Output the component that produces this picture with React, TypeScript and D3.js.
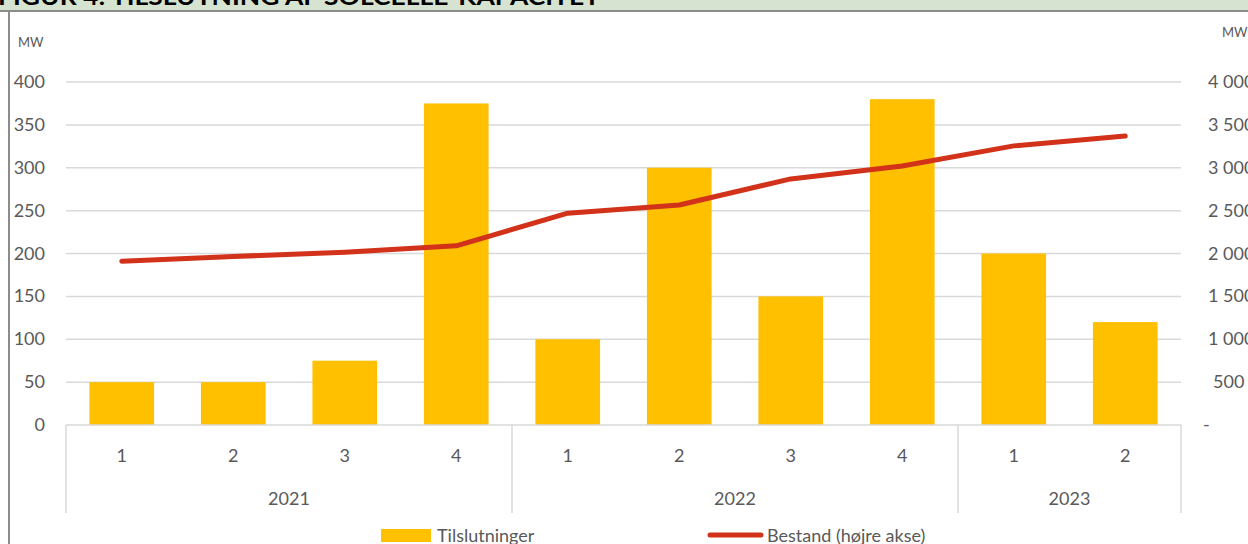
import { useEffect, useRef } from 'react';
import * as d3 from 'd3';

const quarters = ['1', '2', '3', '4', '1', '2', '3', '4', '1', '2'];
const years = ['2021', '2021', '2021', '2021', '2022', '2022', '2022', '2022', '2023', '2023'];
const yearGroups = ['2021', '2022', '2023'];
const tilslutninger = [50, 50, 75, 375, 100, 300, 150, 380, 200, 120];
const bestand = [1910, 1965, 2015, 2090, 2470, 2565, 2870, 3020, 3255, 3370];
const leftTicks = [0, 50, 100, 150, 200, 250, 300, 350, 400];
const rightTicks = [0, 500, 1000, 1500, 2000, 2500, 3000, 3500, 4000];
const title = 'FIGUR 4: TILSLUTNING AF SOLCELLE-KAPACITET';

const App = () => {
  const chartRef = useRef<SVGSVGElement | null>(null);

  useEffect(() => {
    if (!chartRef.current) return;
    const svg = d3.select(chartRef.current);
    svg.selectAll('*').remove();

    const font = 'Lato, "Open Sans", sans-serif';
    const textColor = '#595959';
    const gridColor = '#d9d9d9';

    const left = 66, right = 1181, top = 82, bottom = 425;
    const idx = quarters.map((_, i) => String(i));

    const x = d3.scaleBand<string>()
      .domain(idx)
      .range([left, right])
      .paddingInner(0.42)
      .paddingOuter(0.21);
    const yL = d3.scaleLinear().domain([0, 400]).range([bottom, top]);
    const yR = d3.scaleLinear().domain([0, 4000]).range([bottom, top]);

    // title band (cut off at the top)
    svg.append('rect').attr('x', 0).attr('y', 0).attr('width', 1248).attr('height', 11).attr('fill', '#d6e3d0');
    svg.append('clipPath').attr('id', 'titleclip')
      .append('rect').attr('x', 0).attr('y', 0).attr('width', 1248).attr('height', 11);
    svg.append('text')
      .attr('clip-path', 'url(#titleclip)')
      .attr('x', -2).attr('y', 5)
      .attr('font-family', font)
      .attr('font-weight', 'bold')
      .attr('font-size', 22)
      .attr('fill', '#000')
      .attr('textLength', 602)
      .attr('lengthAdjust', 'spacingAndGlyphs')
      .text(title);
    svg.append('line').attr('x1', 0).attr('x2', 1248).attr('y1', 11).attr('y2', 11)
      .attr('stroke', '#8c8c8c').attr('stroke-width', 2);
    svg.append('line').attr('x1', 9).attr('x2', 9).attr('y1', 11).attr('y2', 544)
      .attr('stroke', '#8c8c8c').attr('stroke-width', 2);

    // unit labels
    svg.append('text').attr('x', 18).attr('y', 47).attr('font-family', font).attr('font-size', 13)
      .attr('fill', textColor).text('MW');
    svg.append('text').attr('x', 1222).attr('y', 37).attr('font-family', font).attr('font-size', 13)
      .attr('fill', textColor).text('MW');

    // gridlines
    svg.append('g').selectAll('line')
      .data(leftTicks.filter(d => d > 0))
      .enter().append('line')
      .attr('x1', left).attr('x2', right)
      .attr('y1', d => yL(d)).attr('y2', d => yL(d))
      .attr('stroke', gridColor).attr('stroke-width', 1.5);

    // left axis labels
    svg.append('g').selectAll('text')
      .data(leftTicks)
      .enter().append('text')
      .attr('x', 45).attr('y', d => yL(d) + 6)
      .attr('text-anchor', 'end')
      .attr('font-family', font).attr('font-size', 18).attr('fill', textColor)
      .text(d => String(d));

    // right axis labels
    const fmt = (d: number) => d === 0 ? '-' : d3.format(',')(d).replace(/,/g, ' ');
    svg.append('g').selectAll('text')
      .data(rightTicks)
      .enter().append('text')
      .attr('x', d => d === 0 ? 1203 : d === 500 ? 1213 : 1208)
      .attr('y', d => yR(d) + 6)
      .attr('font-family', font).attr('font-size', 18).attr('fill', textColor)
      .text(d => fmt(d));

    // bars
    svg.append('g').selectAll('rect')
      .data(tilslutninger)
      .enter().append('rect')
      .attr('x', (_, i) => x(String(i))!)
      .attr('y', d => yL(d))
      .attr('width', x.bandwidth())
      .attr('height', d => bottom - yL(d))
      .attr('fill', '#ffc000');

    // category axis box
    const step = x.step();
    const axis = svg.append('g').attr('stroke', gridColor).attr('stroke-width', 1.5);
    axis.append('line').attr('x1', left).attr('x2', right).attr('y1', bottom).attr('y2', bottom);
    const boundaries = [0];
    yearGroups.forEach(yr => boundaries.push(boundaries[boundaries.length - 1] + years.filter(v => v === yr).length));
    axis.selectAll('line.sep')
      .data(boundaries)
      .enter().append('line')
      .attr('class', 'sep')
      .attr('x1', b => left + b * step).attr('x2', b => left + b * step)
      .attr('y1', bottom).attr('y2', 513);

    svg.append('g').selectAll('text')
      .data(quarters)
      .enter().append('text')
      .attr('x', (_, i) => x(String(i))! + x.bandwidth() / 2)
      .attr('y', 462)
      .attr('text-anchor', 'middle')
      .attr('font-family', font).attr('font-size', 18).attr('fill', textColor)
      .text(d => d);

    svg.append('g').selectAll('text')
      .data(yearGroups)
      .enter().append('text')
      .attr('x', (_, i) => left + (boundaries[i] + boundaries[i + 1]) / 2 * step)
      .attr('y', 505)
      .attr('text-anchor', 'middle')
      .attr('font-family', font).attr('font-size', 18).attr('fill', textColor)
      .text(d => d);

    // line
    const line = d3.line<number>()
      .x((_, i) => x(String(i))! + x.bandwidth() / 2)
      .y(d => yR(d));
    svg.append('path')
      .datum(bestand)
      .attr('d', line)
      .attr('fill', 'none')
      .attr('stroke', '#d2321a')
      .attr('stroke-width', 5)
      .attr('stroke-linecap', 'round')
      .attr('stroke-linejoin', 'round');

    // legend
    svg.append('rect').attr('x', 381).attr('y', 529).attr('width', 50).attr('height', 13).attr('fill', '#ffc000');
    svg.append('text').attr('x', 437).attr('y', 542).attr('font-family', font).attr('font-size', 18)
      .attr('fill', textColor).text('Tilslutninger');
    svg.append('line').attr('x1', 710).attr('x2', 761).attr('y1', 535).attr('y2', 535)
      .attr('stroke', '#d2321a').attr('stroke-width', 5).attr('stroke-linecap', 'round');
    svg.append('text').attr('x', 767).attr('y', 542).attr('font-family', font).attr('font-size', 18)
      .attr('fill', textColor).text('Bestand (højre akse)');
  }, []);

  return (
    <>
      <svg ref={chartRef} width={1248} height={544}></svg>
      <style>{`
        body { margin: 0; overflow: hidden; }
        svg { display: block; background: #fff; }
      `}</style>
    </>
  );
};

export default App;
